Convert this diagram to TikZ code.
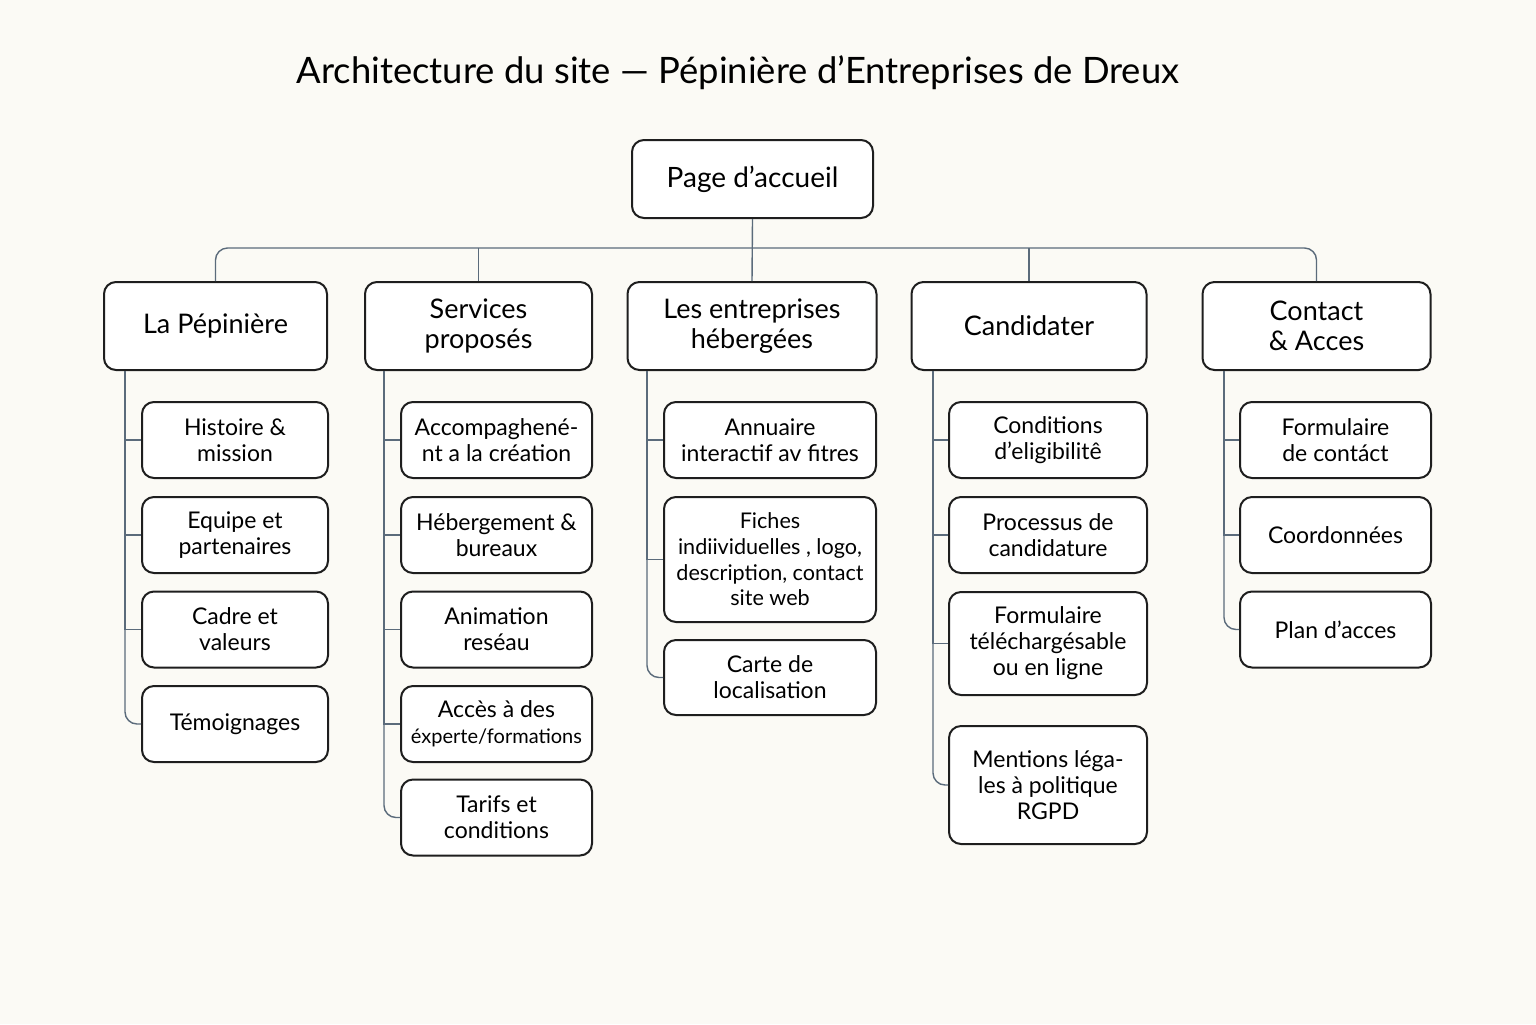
\documentclass[tikz,border=0pt]{standalone}
\usepackage{fontspec}
\setmainfont{Lato}
\definecolor{bg}{HTML}{FBFAF5}
\definecolor{linkc}{HTML}{5B6B7B}
\definecolor{boxc}{HTML}{1E1E1E}
\begin{document}
\begin{tikzpicture}[x=0.5pt,y=-0.5pt,
  box/.style={draw=boxc, line width=1pt, rounded corners=6pt, fill=white, align=center, inner sep=2pt, text=black},
  rootbox/.style={box, font=\fontsize{14}{16}\selectfont},
  secbox/.style={box, font=\fontsize{13.5}{15}\selectfont},
  leaf/.style={box, font=\fontsize{11.5}{13}\selectfont},
  link/.style={draw=linkc, line width=0.7pt},
  rlink/.style={link, rounded corners=6pt}]
\useasboundingbox[fill=bg] (0,0) rectangle (1536,1024);
\node[font=\fontsize{18.2}{21}\selectfont] (title) at (738,73) {Architecture du site — Pépinière d’Entreprises de Dreux};
% root
\node[rootbox, minimum width=120.5pt, minimum height=39pt] (root) at (752.5,179) {Page d’accueil};
% sections
\node[secbox, minimum width=111.5pt, minimum height=44pt] (pep) at (215.5,326) {La Pépinière};
\node[secbox, minimum width=113.5pt, minimum height=44pt] (serv) at (478.5,326) {Services\\proposés};
\node[secbox, minimum width=124.5pt, minimum height=44pt] (ent) at (752,326) {Les entreprises\\hébergées};
\node[secbox, minimum width=117.5pt, minimum height=44pt] (cand) at (1029,326) {Candidater};
\node[secbox, minimum width=114pt, minimum height=44pt] (cont) at (1316.5,326) {Contact\\\&~Acces};
% column A
\node[leaf, minimum width=93pt, minimum height=38pt] (a1) at (235,440) {Histoire \&\\mission};
\node[leaf, minimum width=93pt, minimum height=38pt] (a2) at (235,535) {Equipe et\\partenaires};
\node[leaf, minimum width=93pt, minimum height=38pt] (a3) at (235,629.5) {Cadre et\\valeurs};
\node[leaf, minimum width=93pt, minimum height=38pt] (a4) at (235,724) {Témoignages};
% column B
\node[leaf, minimum width=95.5pt, minimum height=38pt] (b1) at (496.5,440) {Accompaghené-\\nt a la création};
\node[leaf, minimum width=95.5pt, minimum height=38pt] (b2) at (496.5,535) {Hébergement \&\\bureaux};
\node[leaf, minimum width=95.5pt, minimum height=38pt] (b3) at (496.5,629.5) {Animation\\reséau};
\node[leaf, minimum width=95.5pt, minimum height=38pt] (b4) at (496.5,724) {Accès à des\\{\fontsize{10}{13}\selectfont éxperte/formations}};
\node[leaf, minimum width=95.5pt, minimum height=38pt] (b5) at (496.5,817.5) {Tarifs et\\conditions};
% column C
\node[leaf, minimum width=106pt, minimum height=38pt] (c1) at (770,440) {Annuaire\\interactif av fitres};
\node[leaf, minimum width=106pt, minimum height=62.5pt, font=\fontsize{10.8}{12.8}\selectfont] (c2) at (770,559.5) {Fiches\\indiividuelles , logo,\\description, contact\\site web};
\node[leaf, minimum width=106pt, minimum height=37.5pt] (c3) at (770,677.5) {Carte de\\localisation};
% column D
\node[leaf, minimum width=99pt, minimum height=38pt] (d1) at (1048,440) {Conditions\\d’eligibilitê};
\node[leaf, minimum width=99pt, minimum height=38pt] (d2) at (1048,535) {Processus de\\candidature};
\node[leaf, minimum width=99pt, minimum height=51.5pt] (d3) at (1048,643.5) {Formulaire\\téléchargésable\\ou en ligne};
\node[leaf, minimum width=99pt, minimum height=59pt] (d4) at (1048,785) {Mentions léga-\\les à politique\\RGPD};
% column E
\node[leaf, minimum width=95.5pt, minimum height=38pt] (e1) at (1335.5,440) {Formulaire\\de contáct};
\node[leaf, minimum width=95.5pt, minimum height=38pt] (e2) at (1335.5,535) {Coordonnées};
\node[leaf, minimum width=95.5pt, minimum height=38pt] (e3) at (1335.5,629.5) {Plan d’acces};
% bus
\coordinate (busY) at (0,248);
\draw[link] (root.south) -- (ent.north);
\draw[rlink] (pep.north) |- (busY -| ent.north) -| (cont.north);
\draw[link] (serv.north) -- (serv.north |- busY);
\draw[link] (cand.north) -- (cand.north |- busY);
% spines
\coordinate (sA) at (125,0);
\coordinate (sB) at (384,0);
\coordinate (sC) at (647,0);
\coordinate (sD) at (933,0);
\coordinate (sE) at (1224,0);
\foreach \c in {a1,a2,a3} \draw[link] (pep.south -| sA) |- (\c.west);
\draw[rlink] (pep.south -| sA) |- (a4.west);
\foreach \c in {b1,b2,b3,b4} \draw[link] (serv.south -| sB) |- (\c.west);
\draw[rlink] (serv.south -| sB) |- (b5.west);
\foreach \c in {c1,c2} \draw[link] (ent.south -| sC) |- (\c.west);
\draw[rlink] (ent.south -| sC) |- (c3.west);
\foreach \c in {d1,d2,d3} \draw[link] (cand.south -| sD) |- (\c.west);
\draw[rlink] (cand.south -| sD) |- (d4.west);
\foreach \c in {e1,e2} \draw[link] (cont.south -| sE) |- (\c.west);
\draw[rlink] (cont.south -| sE) |- (e3.west);
\end{tikzpicture}
\end{document}
